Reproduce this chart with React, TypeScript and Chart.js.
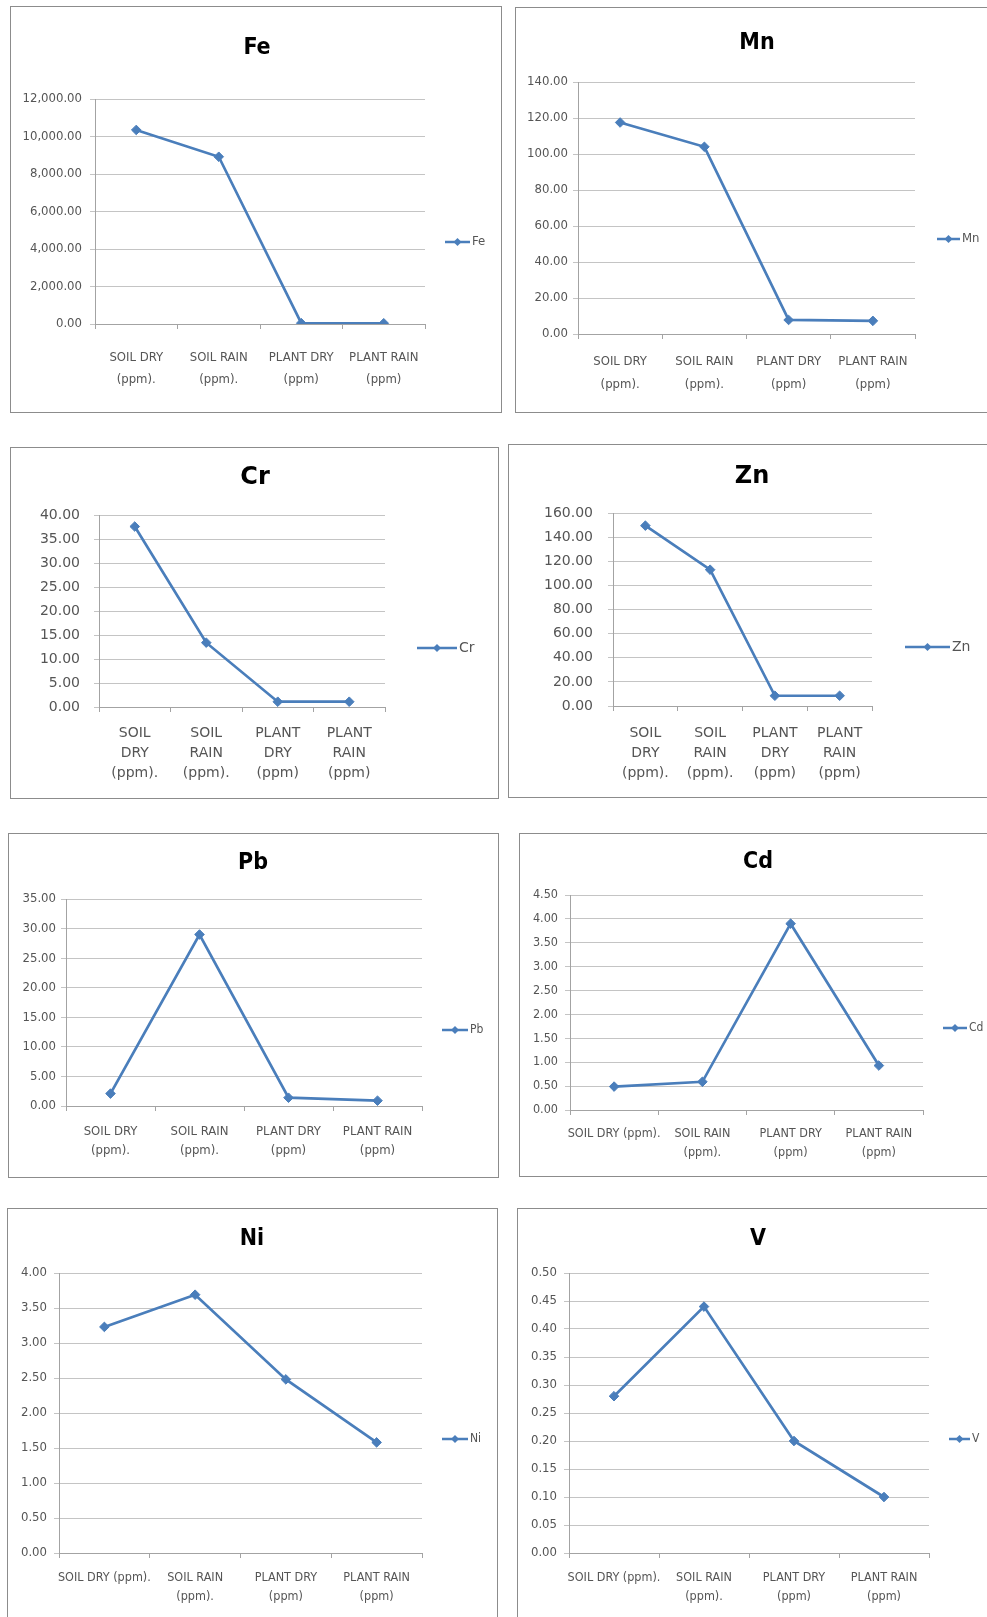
import React, { useEffect, useRef } from "react";
import { Chart, registerables } from "chart.js";

Chart.register(...registerables);

// ---------- data ----------
const categories = ["SOIL DRY (ppm).", "SOIL RAIN (ppm).", "PLANT DRY (ppm)", "PLANT RAIN (ppm)"];

const feValues = [10350, 8920, 45, 40];
const mnValues = [117.5, 104.0, 7.8, 7.3];
const crValues = [37.6, 13.4, 1.1, 1.1];
const znValues = [149.5, 113.0, 8.5, 8.5];
const pbValues = [2.1, 29.0, 1.4, 0.9];
const cdValues = [0.49, 0.59, 3.9, 0.93];
const niValues = [3.23, 3.69, 2.48, 1.58];
const vValues = [0.28, 0.44, 0.2, 0.1];

// y axis: [min, max, step]
const feAxis = [0, 12000, 2000];
const mnAxis = [0, 140, 20];
const crAxis = [0, 40, 5];
const znAxis = [0, 160, 20];
const pbAxis = [0, 35, 5];
const cdAxis = [0, 4.5, 0.5];
const niAxis = [0, 4, 0.5];
const vAxis = [0, 0.5, 0.05];

// ---------- styles / layout ----------
const BLUE = "#4A7EBB";
const GRID = "#c4c4c4";
const AXIS = "#a3a3a3";
const TICK = "#555555";
const NARROW = '"Liberation Sans Narrow", "DejaVu Sans Condensed", "Liberation Sans", sans-serif';
const WIDE = '"DejaVu Sans", Verdana, sans-serif';

type Layout = {
  box: number[]; // x0, y0, x1, y1 (page px)
  area: number[]; // left, top, right, bottom (page px)
  title: number[]; // cx, cy
  legend: number[]; // x0, x1, y
  labelGap: number;
  xPad: number;
  lineH: number;
  wrap: "two" | "words" | "firstLine";
  wide: boolean;
  tickSize: number;
  xSize: number;
  titleSize: number;
  legendSize: number;
};

const feLayout: Layout = { box: [10, 6, 502, 413], area: [95, 99, 425, 324], title: [257, 48], legend: [445, 470, 242], labelGap: 8, xPad: 18, lineH: 22, wrap: "two", wide: false, tickSize: 13, xSize: 13, titleSize: 23, legendSize: 13 };
const mnLayout: Layout = { box: [515, 7, 1000, 413], area: [578, 82, 915, 334], title: [757, 43], legend: [937, 960, 239], labelGap: 5, xPad: 11.5, lineH: 23, wrap: "two", wide: false, tickSize: 13, xSize: 13, titleSize: 23, legendSize: 13 };
const crLayout: Layout = { box: [10, 447, 499, 799], area: [99, 515, 385, 707], title: [255, 478], legend: [417, 457, 648], labelGap: 14, xPad: 11, lineH: 20, wrap: "words", wide: true, tickSize: 14, xSize: 14, titleSize: 24, legendSize: 14 };
const znLayout: Layout = { box: [508, 444, 1000, 798], area: [613, 513, 872, 706], title: [752, 477], legend: [905, 950, 647], labelGap: 15, xPad: 12, lineH: 20, wrap: "words", wide: true, tickSize: 14, xSize: 14, titleSize: 24, legendSize: 14 };
const pbLayout: Layout = { box: [8, 833, 499, 1178], area: [66, 899, 422, 1106], title: [253, 863], legend: [442, 468, 1030], labelGap: 5, xPad: 11.5, lineH: 19, wrap: "two", wide: false, tickSize: 13, xSize: 13, titleSize: 23, legendSize: 12 };
const cdLayout: Layout = { box: [519, 833, 1000, 1177], area: [570, 895, 923, 1110], title: [758, 862], legend: [943, 967, 1028], labelGap: 7, xPad: 9.5, lineH: 19, wrap: "firstLine", wide: false, tickSize: 12.5, xSize: 12.5, titleSize: 23, legendSize: 12 };
const niLayout: Layout = { box: [7, 1208, 498, 1640], area: [59, 1273, 422, 1553], title: [252, 1239], legend: [442, 468, 1439], labelGap: 7, xPad: 10.5, lineH: 19, wrap: "firstLine", wide: false, tickSize: 13, xSize: 12.5, titleSize: 23, legendSize: 12 };
const vLayout: Layout = { box: [517, 1208, 1000, 1640], area: [569, 1273, 929, 1553], title: [758, 1239], legend: [949, 970, 1439], labelGap: 7, xPad: 10.5, lineH: 19, wrap: "firstLine", wide: false, tickSize: 13, xSize: 12.5, titleSize: 23, legendSize: 12 };

type Spec = { name: string; values: number[]; axis: number[]; layout: Layout };

const charts: Spec[] = [
  { name: "Fe", values: feValues, axis: feAxis, layout: feLayout },
  { name: "Mn", values: mnValues, axis: mnAxis, layout: mnLayout },
  { name: "Cr", values: crValues, axis: crAxis, layout: crLayout },
  { name: "Zn", values: znValues, axis: znAxis, layout: znLayout },
  { name: "Pb", values: pbValues, axis: pbAxis, layout: pbLayout },
  { name: "Cd", values: cdValues, axis: cdAxis, layout: cdLayout },
  { name: "Ni", values: niValues, axis: niAxis, layout: niLayout },
  { name: "V", values: vValues, axis: vAxis, layout: vLayout },
];

function wrapLabel(label: string, mode: string, index: number): string | string[] {
  if (mode === "words") return label.split(" ");
  if (mode === "firstLine" && index === 0) return label;
  const i = label.indexOf(" (");
  return [label.slice(0, i), label.slice(i + 1)];
}

function ChartBox({ spec }: { spec: Spec }) {
  const ref = useRef<HTMLCanvasElement>(null);
  const L = spec.layout;
  const [x0, y0, x1, y1] = L.box;
  const cx = x0 + 1;
  const cy = y0 + 1;
  const W = x1 - x0 - 2;
  const H = y1 - y0 - 2;

  useEffect(() => {
    if (!ref.current) return;
    const [aL, aT, aR, aB] = L.area;
    const family = L.wide ? WIDE : NARROW;

    const overlay = {
      id: "overlay",
      afterDraw(chart: any) {
        const ctx = chart.ctx as CanvasRenderingContext2D;
        ctx.save();
        ctx.fillStyle = "#000";
        ctx.font = `bold ${L.titleSize}px ${family}`;
        ctx.textAlign = "center";
        ctx.textBaseline = "middle";
        ctx.fillText(spec.name, L.title[0] - cx, L.title[1] - cy);

        const [lx0, lx1, ly] = L.legend;
        ctx.strokeStyle = BLUE;
        ctx.lineWidth = 2.5;
        ctx.beginPath();
        ctx.moveTo(lx0 - cx, ly - cy);
        ctx.lineTo(lx1 - cx, ly - cy);
        ctx.stroke();
        const mx = (lx0 + lx1) / 2 - cx;
        const my = ly - cy;
        const r = 4;
        ctx.fillStyle = BLUE;
        ctx.beginPath();
        ctx.moveTo(mx, my - r);
        ctx.lineTo(mx + r, my);
        ctx.lineTo(mx, my + r);
        ctx.lineTo(mx - r, my);
        ctx.closePath();
        ctx.fill();
        ctx.fillStyle = TICK;
        ctx.font = `${L.legendSize}px ${family}`;
        ctx.textAlign = "left";
        ctx.fillText(spec.name, lx1 - cx + 2, my);
        ctx.restore();
      },
    };

    const chart = new Chart(ref.current, {
      type: "line",
      data: {
        labels: categories.map((c, i) => wrapLabel(c, L.wrap, i)),
        datasets: [
          {
            label: spec.name,
            data: spec.values,
            borderColor: BLUE,
            backgroundColor: BLUE,
            borderWidth: 2.7,
            pointStyle: "rectRot",
            pointRadius: 4.8,
            pointBorderWidth: 1,
            pointBorderColor: BLUE,
            pointBackgroundColor: BLUE,
            tension: 0,
          },
        ],
      },
      options: {
        responsive: false,
        animation: false,
        layout: { padding: { left: 0, top: aT - cy, right: cx + W - aR, bottom: 0 } },
        plugins: {
          legend: { display: false },
          title: { display: false },
          tooltip: { enabled: false },
        },
        scales: {
          x: {
            offset: true,
            grid: { offset: true, drawOnChartArea: false, drawTicks: true, tickLength: 5, color: AXIS },
            border: { color: AXIS },
            ticks: {
              color: TICK,
              font: { family, size: L.xSize, lineHeight: L.lineH + "px" },
              padding: L.xPad,
              maxRotation: 0,
              minRotation: 0,
              autoSkip: false,
            },
            afterFit: (s: any) => {
              s.height = cy + H - aB;
            },
          },
          y: {
            min: spec.axis[0],
            max: spec.axis[1],
            ticks: {
              stepSize: spec.axis[2],
              color: TICK,
              font: { family, size: L.tickSize },
              padding: L.labelGap,
              callback: (v: any) =>
                Number(v).toLocaleString("en-US", { minimumFractionDigits: 2, maximumFractionDigits: 2 }),
            },
            grid: { color: GRID, tickLength: 5, drawTicks: true },
            border: { color: AXIS },
            afterFit: (s: any) => {
              s.width = aL - cx;
            },
          },
        },
      } as any,
      plugins: [overlay],
    });
    return () => chart.destroy();
  }, []);

  return (
    <div
      style={{
        position: "absolute",
        left: x0,
        top: y0,
        width: x1 - x0,
        height: y1 - y0,
        border: "1px solid #8c8c8c",
        boxSizing: "border-box",
        background: "#fff",
      }}
    >
      <canvas ref={ref} width={W} height={H} style={{ position: "absolute", left: 0, top: 0, width: W, height: H }} />
    </div>
  );
}

export default function App() {
  return (
    <div style={{ position: "fixed", left: 0, top: 0, width: 987, height: 1617, overflow: "hidden", background: "#fff" }}>
      {charts.map((c) => (
        <ChartBox key={c.name} spec={c} />
      ))}
    </div>
  );
}
